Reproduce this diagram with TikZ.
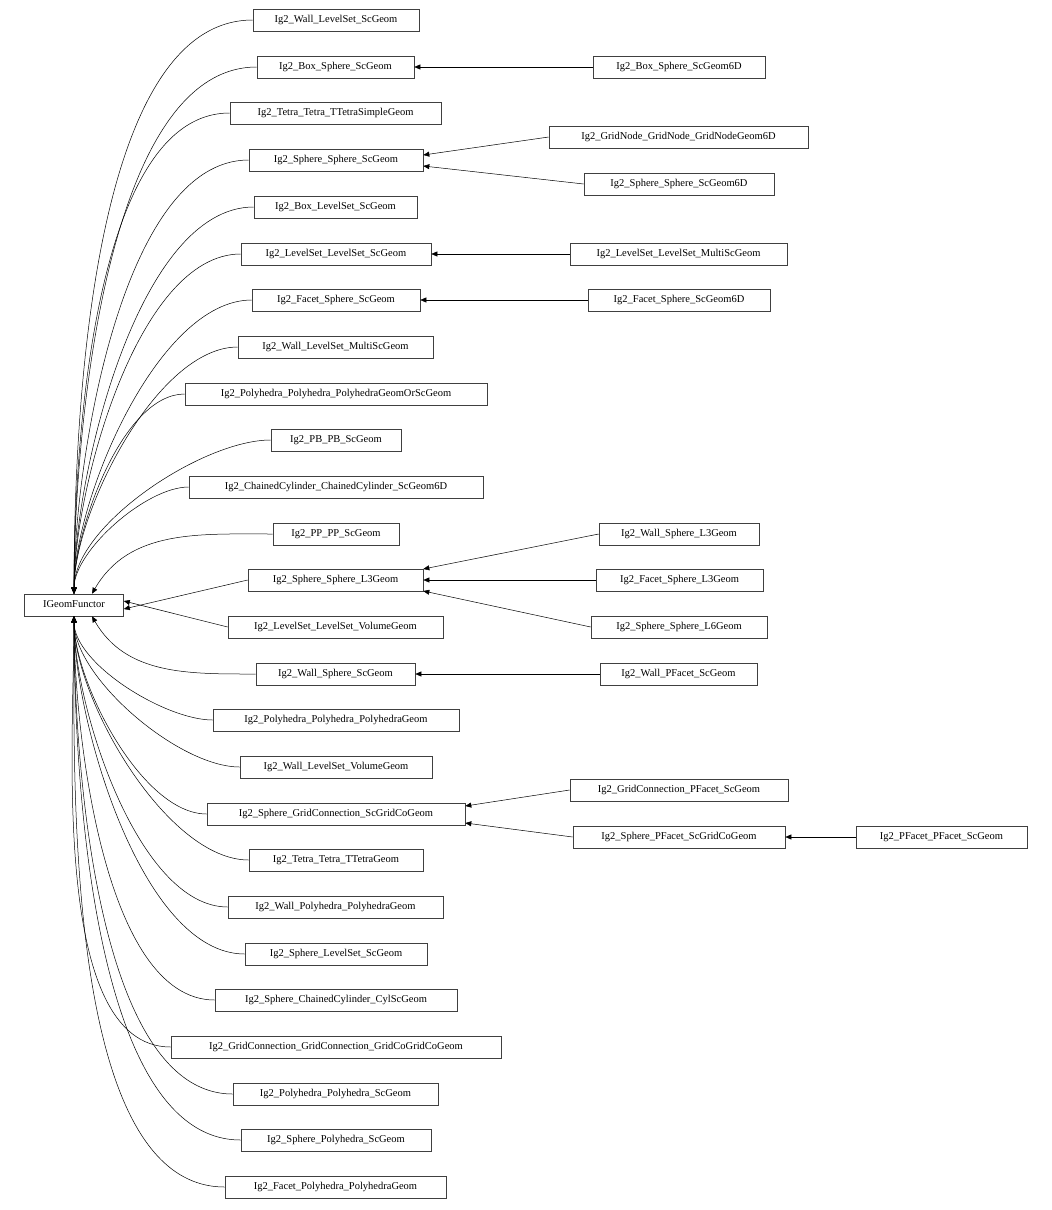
\documentclass[tikz,border=0pt]{standalone}
\usepackage{fontspec}
\setmainfont{Liberation Serif}
\usetikzlibrary{arrows.meta}
\begin{document}
\begin{tikzpicture}[x=1pt,y=-1pt,
  cls/.style={draw=black!75,line width=0.6pt,minimum height=22pt,inner sep=0pt,text height=7.5pt,text depth=2.5pt,font=\fontsize{10.5}{11}\selectfont,fill=white},
  arr/.style={line width=0.5pt,{Triangle[length=6pt,width=5pt]}-}]
\useasboundingbox (0,0) rectangle (1052,1210);
\newcommand\cls[5]{\node[cls,minimum width=#4pt] (#1) at (#2,#3) {#5};}
\cls{ig}{74}{605}{99}{IGeomFunctor}
\cls{a1}{336}{20}{166}{Ig2\_Wall\_LevelSet\_ScGeom}
\cls{a2}{335.5}{67}{157}{Ig2\_Box\_Sphere\_ScGeom}
\cls{a3}{335.5}{113}{211}{Ig2\_Tetra\_Tetra\_TTetraSimpleGeom}
\cls{a4}{336}{160}{174}{Ig2\_Sphere\_Sphere\_ScGeom}
\cls{a5}{335.5}{207}{163}{Ig2\_Box\_LevelSet\_ScGeom}
\cls{a6}{336}{254}{190}{Ig2\_LevelSet\_LevelSet\_ScGeom}
\cls{a7}{336}{300}{168}{Ig2\_Facet\_Sphere\_ScGeom}
\cls{a8}{335.5}{347}{195}{Ig2\_Wall\_LevelSet\_MultiScGeom}
\cls{a9}{336}{394}{302}{Ig2\_Polyhedra\_Polyhedra\_PolyhedraGeomOrScGeom}
\cls{a10}{336}{440}{130}{Ig2\_PB\_PB\_ScGeom}
\cls{a11}{336}{487}{294}{Ig2\_ChainedCylinder\_ChainedCylinder\_ScGeom6D}
\cls{a12}{336}{534}{126}{Ig2\_PP\_PP\_ScGeom}
\cls{a13}{335.5}{580}{175}{Ig2\_Sphere\_Sphere\_L3Geom}
\cls{a14}{335.5}{627}{215}{Ig2\_LevelSet\_LevelSet\_VolumeGeom}
\cls{a15}{335.5}{674}{159}{Ig2\_Wall\_Sphere\_ScGeom}
\cls{a16}{336}{720}{246}{Ig2\_Polyhedra\_Polyhedra\_PolyhedraGeom}
\cls{a17}{336}{767}{192}{Ig2\_Wall\_LevelSet\_VolumeGeom}
\cls{a18}{336}{814}{258}{Ig2\_Sphere\_GridConnection\_ScGridCoGeom}
\cls{a19}{336}{860}{174}{Ig2\_Tetra\_Tetra\_TTetraGeom}
\cls{a20}{335.5}{907}{215}{Ig2\_Wall\_Polyhedra\_PolyhedraGeom}
\cls{a21}{336}{954}{182}{Ig2\_Sphere\_LevelSet\_ScGeom}
\cls{a22}{336}{1000}{242}{Ig2\_Sphere\_ChainedCylinder\_CylScGeom}
\cls{a23}{336}{1047}{330}{Ig2\_GridConnection\_GridConnection\_GridCoGridCoGeom}
\cls{a24}{335.5}{1094}{205}{Ig2\_Polyhedra\_Polyhedra\_ScGeom}
\cls{a25}{336}{1140}{190}{Ig2\_Sphere\_Polyhedra\_ScGeom}
\cls{a26}{335.5}{1187}{221}{Ig2\_Facet\_Polyhedra\_PolyhedraGeom}
\cls{b1}{679}{67}{172}{Ig2\_Box\_Sphere\_ScGeom6D}
\cls{b2}{678.5}{137}{259}{Ig2\_GridNode\_GridNode\_GridNodeGeom6D}
\cls{b3}{679}{184}{190}{Ig2\_Sphere\_Sphere\_ScGeom6D}
\cls{b4}{678.5}{254}{217}{Ig2\_LevelSet\_LevelSet\_MultiScGeom}
\cls{b5}{679}{300}{182}{Ig2\_Facet\_Sphere\_ScGeom6D}
\cls{b6}{679}{534}{160}{Ig2\_Wall\_Sphere\_L3Geom}
\cls{b7}{679.5}{580}{167}{Ig2\_Facet\_Sphere\_L3Geom}
\cls{b8}{679}{627}{176}{Ig2\_Sphere\_Sphere\_L6Geom}
\cls{b9}{678.5}{674}{157}{Ig2\_Wall\_PFacet\_ScGeom}
\cls{b10}{679}{790}{218}{Ig2\_GridConnection\_PFacet\_ScGeom}
\cls{b11}{679}{837}{212}{Ig2\_Sphere\_PFacet\_ScGridCoGeom}
\cls{c1}{941.5}{837}{171}{Ig2\_PFacet\_PFacet\_ScGeom}
% edges to IGeomFunctor
\foreach \n in {a1,a2,a3,a4,a5,a6,a7,a8,a9,a10,a11}
  \draw[arr] (ig.north) to[out=90,in=180,looseness=0.7] (\n.west);
\draw[arr] ([xshift=18pt]ig.north) to[out=60,in=180] (a12.west);
\draw[arr] ([yshift=-4pt]ig.east) -- (a13.west);
\draw[arr] ([yshift=4pt]ig.east) -- (a14.west);
\draw[arr] ([xshift=18pt]ig.south) to[out=-60,in=180] (a15.west);
\foreach \n in {a16,a17,a18,a19,a20,a21,a22,a23,a24,a25,a26}
  \draw[arr] (ig.south) to[out=-90,in=180,looseness=0.7] (\n.west);
% right edges
\draw[arr] (a2.east) -- (b1.west);
\draw[arr] ([yshift=5pt]a4.east) -- (b2.west);
\draw[arr] ([yshift=-6pt]a4.east) -- (b3.west);
\draw[arr] (a6.east) -- (b4.west);
\draw[arr] (a7.east) -- (b5.west);
\draw[arr] ([yshift=11pt]a13.east) -- (b6.west);
\draw[arr] (a13.east) -- (b7.west);
\draw[arr] ([yshift=-11pt]a13.east) -- (b8.west);
\draw[arr] (a15.east) -- (b9.west);
\draw[arr] ([yshift=8pt]a18.east) -- (b10.west);
\draw[arr] ([yshift=-9pt]a18.east) -- (b11.west);
\draw[arr] (b11.east) -- (c1.west);
\end{tikzpicture}
\end{document}
